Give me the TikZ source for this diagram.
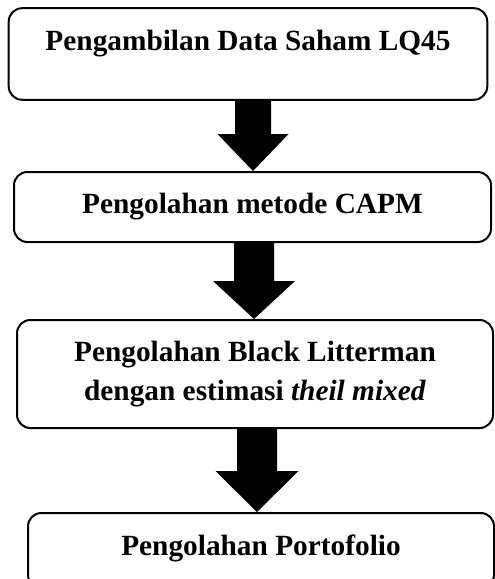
\documentclass[tikz,border=0pt]{standalone}
\usepackage{fontspec}
\setmainfont{Liberation Serif}
\usetikzlibrary{calc}
\newcommand\BlkArrow[6]{%
  \fill ($(#1 |- #2.south)+(-#4,-1)$) -- ($(#1 |- #2.south)+(#4,-1)$)
    -- ($(#1 |- #3.north)+(#4,-#6)$) -- ($(#1 |- #3.north)+(#5,-#6)$)
    -- (#1 |- #3.north)
    -- ($(#1 |- #3.north)+(-#5,-#6)$) -- ($(#1 |- #3.north)+(-#4,-#6)$) -- cycle;}
\begin{document}
\begin{tikzpicture}[x=0.75pt,y=-0.75pt,
  box/.style={draw,line width=1.5pt,rounded corners=10pt,inner sep=0pt,align=center,
    font=\fontsize{22}{29.25}\selectfont\bfseries}]
\useasboundingbox (0,0) rectangle (495,579);
\begin{scope}
\clip (0,0) rectangle (495,579);
\node[box,minimum width=358.9pt,text height=31.9pt,text depth=36.75pt] (b1) at (248,54) {Pengambilan Data Saham LQ45};
\node[box,minimum width=357.75pt,minimum height=52.5pt] (b2) at (252.5,207) {Pengolahan metode CAPM};
\node[box,minimum width=357pt,minimum height=81pt] (b3) at (255,374) {Pengolahan Black Litterman\\dengan estimasi \textit{theil mixed}};
\node[box,minimum width=349.5pt,text height=31.5pt,text depth=24.75pt] (b4) at (261,550.5) {Pengolahan Portofolio};
\coordinate (c1) at (253,0);
\coordinate (c2) at (254,0);
\coordinate (c3) at (257,0);
\BlkArrow{c1}{b1}{b2}{18}{35.5}{37}
\BlkArrow{c2}{b2}{b3}{20}{41}{38}
\BlkArrow{c3}{b3}{b4}{20}{41.5}{41}
\end{scope}
\end{tikzpicture}
\end{document}
